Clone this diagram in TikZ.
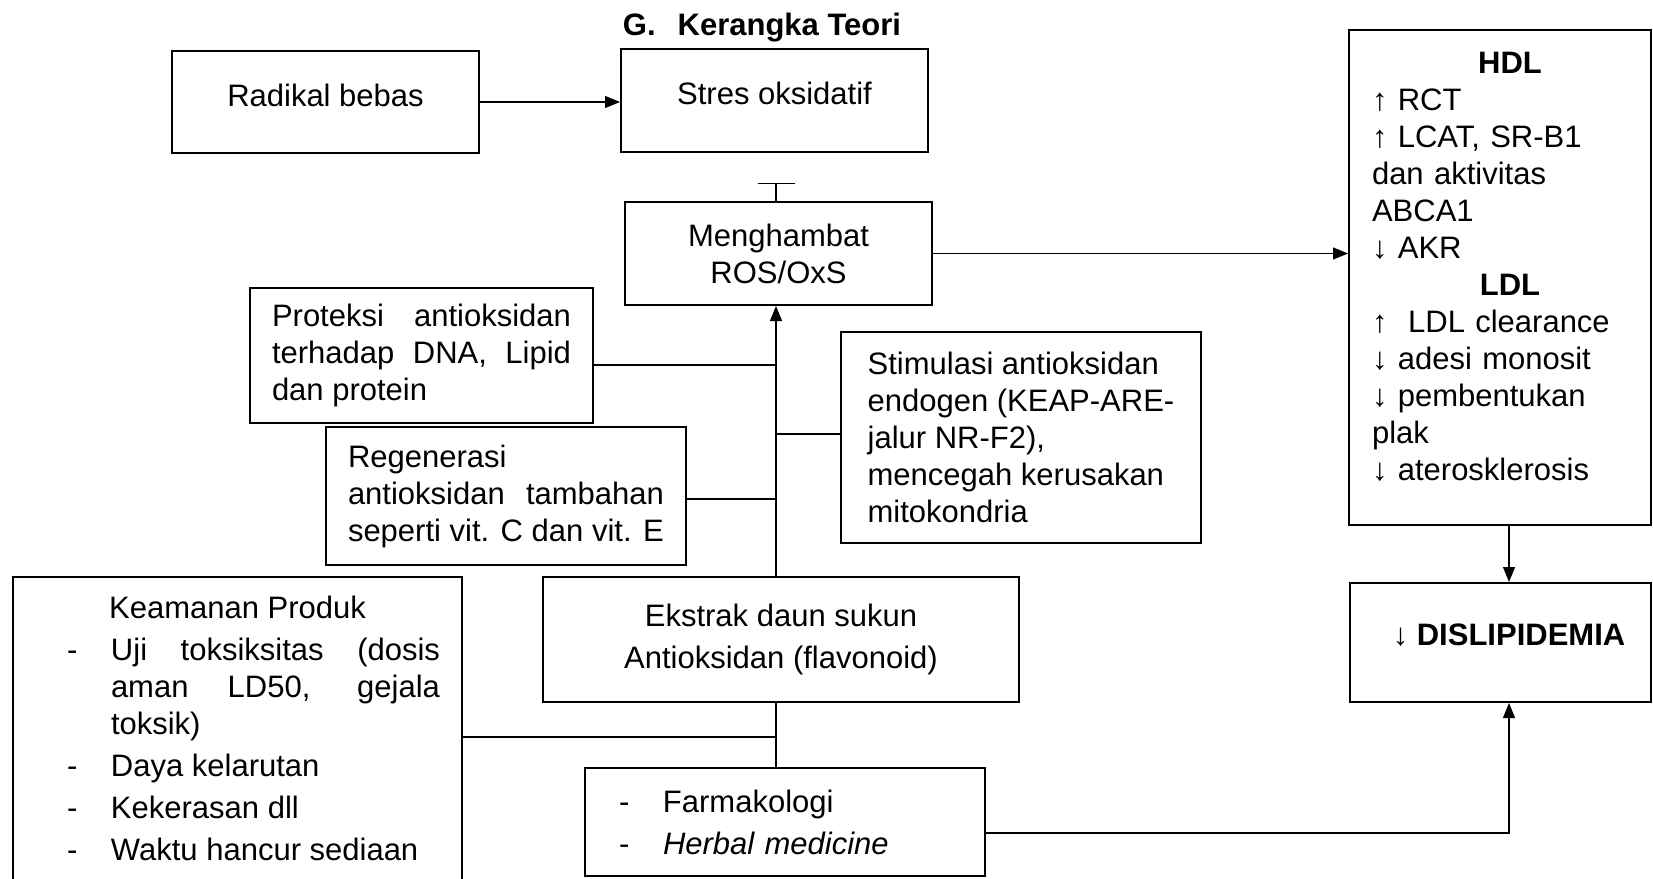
\documentclass[tikz,border=0pt]{standalone}
\usepackage{fontspec}
\setmainfont{Liberation Sans}
\usetikzlibrary{arrows.meta}
\hyphenpenalty=10000
\exhyphenpenalty=10000
\tikzset{
  box/.style={draw, line width=1pt, inner sep=0pt, font=\fontsize{15.5}{18.5}\selectfont},
  link/.style={line width=0.6pt},
}
\begin{document}
\begin{tikzpicture}[x=0.5pt, y=-0.5pt, >={Triangle[length=7.5pt,width=6pt]}]
      \useasboundingbox (0,0) rectangle (1653,878);
      %judul
      \node[font=\fontsize{15.5}{18.5}\selectfont\bfseries] (judul) at (762,28) {G.\hspace{11pt}Kerangka Teori};
      %kotak atas
      \node[box, minimum width=153.5pt, minimum height=51pt, text depth=7pt] (radikal) at (325.5,102) {Radikal bebas};
      \node[box, minimum width=153.5pt, minimum height=51.5pt, text depth=7.5pt] (stres) at (774.5,100.5) {Stres oksidatif};
      \node[box, minimum width=153.5pt, minimum height=51.5pt, align=center] (hambat) at (778.5,253.5) {Menghambat\\ROS/OxS};
      %mekanisme antioksidan
      \node[box, minimum height=67.5pt, inner xsep=11pt, text width=149.5pt, align=justify] (proteksi) at (421.5,355.5)
        {Proteksi antioksidan terhadap DNA, Lipid dan protein};
      \node[box, minimum height=69pt, inner xsep=11pt, text width=158pt, align=justify] (regenerasi) at (506,496)
        {Regenerasi antioksidan tambahan seperti vit. C dan vit. E};
      \node[box, minimum width=180pt, minimum height=105.5pt, align=left] (stimulasi) at (1021,437.5)
        {Stimulasi antioksidan\\endogen (KEAP-ARE-\\jalur NR-F2),\\mencegah kerusakan\\mitokondria};
      %ekstrak
      \node[box, minimum width=238pt, minimum height=62.5pt, align=center] (ekstrak) at (781,639.5)
        {Ekstrak daun sukun\\[2.5pt]Antioksidan (flavonoid)};
      \node[box, anchor=north, inner xsep=0pt, inner ysep=9.7pt, text width=224.5pt, text depth=131pt, align=justify] (keamanan) at (237.5,576)
        {{\centering Keamanan Produk\par}
         \parskip=2.5pt \leftskip=27pt \rightskip=11pt
         \hangindent=22pt \hangafter=1 \noindent\makebox[22pt][l]{-}Uji toksiksitas (dosis aman LD50, gejala toksik)\par
         \hangindent=22pt \hangafter=1 \noindent\makebox[22pt][l]{-}Daya kelarutan\par
         \hangindent=22pt \hangafter=1 \noindent\makebox[22pt][l]{-}Kekerasan dll\par
         \hangindent=22pt \hangafter=1 \noindent\makebox[22pt][l]{-}Waktu hancur sediaan\par};
      \node[box, minimum height=54pt, inner xsep=0pt, text width=200pt, align=left] (farma) at (785,822)
        {\hspace*{17pt}\makebox[22pt][l]{-}Farmakologi\\[2.5pt]\hspace*{17pt}\makebox[22pt][l]{-}\textit{Herbal medicine}};
      %lipid
      \node[box, minimum height=247.5pt, inner xsep=11.5pt, text width=128pt, text depth=214.5pt, align=left] (lipid) at (1500,277.5)
        {\makebox[\hsize]{\hspace*{10pt}\bfseries HDL}\\
         ↑ RCT\\
         ↑ LCAT, SR-B1\\
         dan aktivitas\\
         ABCA1\\
         ↓ AKR\\
         \makebox[\hsize]{\hspace*{10pt}\bfseries LDL}\\
         ↑~ LDL clearance\\
         ↓ adesi monosit\\
         ↓ pembentukan\\
         plak\\
         ↓ aterosklerosis};
      \node[box, minimum width=150.5pt, minimum height=59.5pt, text depth=7.5pt] (dislip) at (1500.5,642.5)
        {\hspace*{8.5pt}\bfseries ↓ DISLIPIDEMIA};
      %titik bantu
      \coordinate (tx) at (776,0);
      \coordinate (rx) at (1509,0);
      \coordinate (inh) at (776,183);
      \coordinate (j1) at (776,365);
      \coordinate (j3) at (776,434);
      \coordinate (j2) at (776,499);
      \coordinate (j4) at (776,737);
      \coordinate (fy) at (0,833);
      %garis
      \draw[link, ->] (radikal.east) -- (radikal.east -| stres.west);
      \draw[link, -{Bar[width=18.5pt]}] (hambat.north -| tx) -- (inh);
      \draw[link, ->] (ekstrak.north -| tx) -- (hambat.south -| tx);
      \draw[link] (proteksi.east |- j1) -- (j1);
      \draw[link] (regenerasi.east |- j2) -- (j2);
      \draw[link] (stimulasi.west |- j3) -- (j3);
      \draw[link] (keamanan.east |- j4) -- (j4);
      \draw[link] (ekstrak.south -| tx) -- (farma.north -| tx);
      \draw[link, ->] (hambat.east) -- (hambat.east -| lipid.west);
      \draw[link, ->] (lipid.south -| rx) -- (dislip.north -| rx);
      \draw[link, ->] (farma.east |- fy) -| (dislip.south -| rx);
\end{tikzpicture}
\end{document}
